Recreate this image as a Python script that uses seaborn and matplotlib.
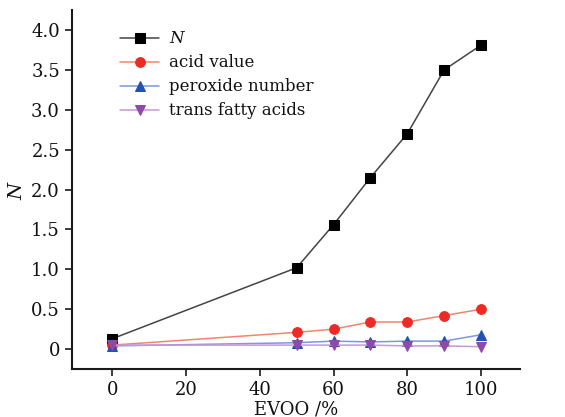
import numpy as np
import pandas as pd
import matplotlib
matplotlib.use('Agg')
import matplotlib.pyplot as plt
import seaborn as sns
from matplotlib.ticker import FuncFormatter

evoo = [0, 50, 60, 70, 80, 90, 100]
n_vals = [0.13, 1.02, 1.56, 2.15, 2.70, 3.50, 3.81]
acid_value = [0.05, 0.21, 0.25, 0.34, 0.34, 0.42, 0.50]
peroxide_number = [0.04, 0.08, 0.10, 0.09, 0.10, 0.10, 0.18]
trans_fatty = [0.05, 0.05, 0.05, 0.05, 0.04, 0.04, 0.03]

labels = ['$N$', 'acid value', 'peroxide number', 'trans fatty acids']
series = [n_vals, acid_value, peroxide_number, trans_fatty]
line_colors = ['#444444', '#f4846c', '#7d97e0', '#c59ad6']
marker_colors = ['#000000', '#ee2a24', '#2452b0', '#8e4aa8']
markers = ['s', 'o', '^', 'v']

sns.set_style('white')
plt.rcParams['font.family'] = ['DejaVu Serif']
plt.rcParams['mathtext.fontset'] = 'dejavuserif'

fig = plt.figure(figsize=(5.65, 4.17), dpi=100)
ax = fig.add_axes([0.127, 0.115, 0.793, 0.861])

for lab, vals, lc, mc, mk in zip(labels, series, line_colors, marker_colors, markers):
    df = pd.DataFrame({'EVOO': evoo, 'value': vals})
    sns.lineplot(data=df, x='EVOO', y='value', ax=ax, color=lc, linewidth=1.1,
                 marker=mk, markersize=7, markerfacecolor=mc, markeredgecolor=mc,
                 label=lab)

ax.set_xlim(-11, 110.5)
ax.set_ylim(-0.25, 4.25)
ax.set_xticks([0, 20, 40, 60, 80, 100])
ax.set_yticks(np.arange(0, 4.01, 0.5))
ax.yaxis.set_major_formatter(FuncFormatter(lambda v, p: '0' if abs(v) < 1e-9 else f'{v:.1f}'))

for s in ['top', 'right']:
    ax.spines[s].set_visible(False)
for s in ['left', 'bottom']:
    ax.spines[s].set_linewidth(1.5)
    ax.spines[s].set_color('#1a1a1a')
ax.tick_params(axis='both', direction='out', length=5, width=1.2, labelsize=13,
               color='#1a1a1a', labelcolor='#111111', left=True, bottom=True)

ax.set_xlabel('EVOO /%', fontsize=13, labelpad=1, color='#111111')
ax.set_ylabel('$N$', fontsize=14, labelpad=4, color='#111111')

leg = ax.legend(loc='upper left', bbox_to_anchor=(0.075, 0.985), frameon=False, fontsize=12,
                handlelength=2.3, handletextpad=0.6, labelspacing=0.42, borderaxespad=0.5)
for t in leg.get_texts():
    t.set_color('#111111')

fig.savefig('out.png', dpi=100)
